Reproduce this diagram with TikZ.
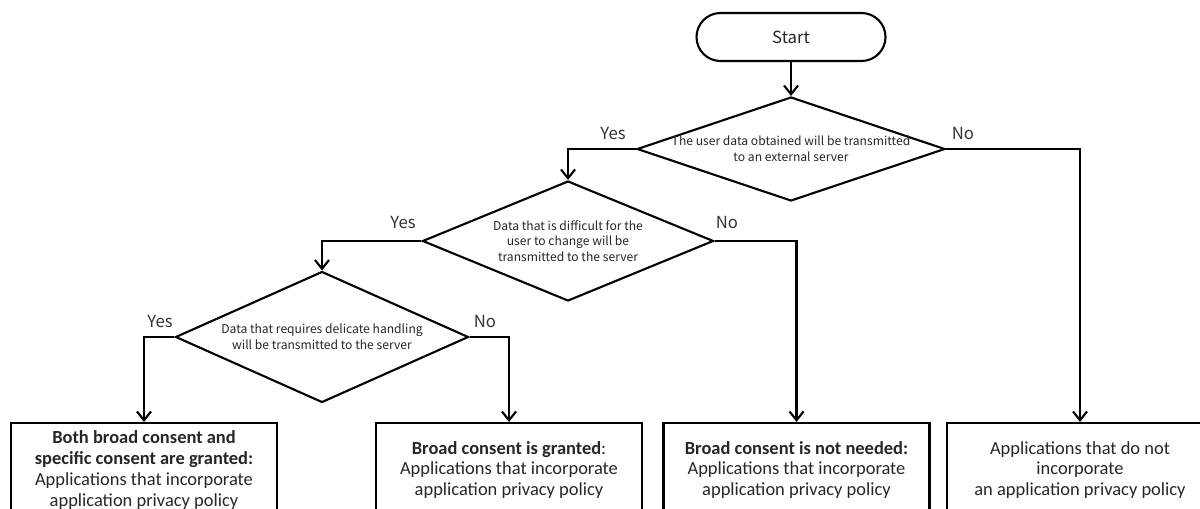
\documentclass[tikz,border=0pt]{standalone}
\usepackage{fontspec}
\setmainfont{Carlito}
\newfontfamily\gothic{Noto Sans CJK JP}
\usepackage{tikz}
\usetikzlibrary{arrows.meta, shapes.geometric}
\tikzset{
  terminal/.style={
    rectangle, rounded corners=0.48cm, draw=black, line width=1.2pt,
    minimum width=3.78cm, minimum height=0.96cm,
    font=\gothic\fontsize{9.5}{11}\selectfont, text=black!85
  },
  decision/.style={
    diamond, draw=black, line width=1.2pt, inner sep=0pt
  },
  question/.style={
    align=center, inner sep=0pt,
    font=\gothic\fontsize{6.9}{9}\selectfont, text=black!85
  },
  outcome/.style={
    rectangle, draw=black, line width=1.2pt,
    minimum width=5.32cm, minimum height=1.88cm,
    align=center, font=\fontsize{10.5}{11.9}\selectfont, text=black!85
  },
  answer/.style={font=\gothic\fontsize{9.5}{11}\selectfont, text=black!80},
  arrow/.style={-{Straight Barb[length=5pt,width=8pt]}, line width=1.2pt, draw=black}
}

\begin{document}
\begin{tikzpicture}
  \clip (0,0) rectangle (24,-10.16);
  % start and the three questions
  \node[terminal] (start) at (15.82,-0.74) {Start};
  \node[decision, minimum width=6.16cm, minimum height=2.08cm] (d1) at (15.82,-2.98) {};
  \node[decision, minimum width=5.82cm, minimum height=2.40cm] (d2) at (11.36,-4.82) {};
  \node[decision, minimum width=5.86cm, minimum height=2.62cm] (d3) at (6.44,-6.74) {};
  \node[question] (q1) at (d1) {The user data obtained will be transmitted\\to an external server};
  \node[question] (q2) at (d2) {Data that is difficult for the\\user to change will be\\transmitted to the server};
  \node[question] (q3) at (d3) {Data that requires delicate handling\\will be transmitted to the server};
  % results
  \node[outcome] (b1) at (2.88,-9.40)
    {\textbf{Both broad consent and}\\\textbf{specific consent are granted:}\\Applications that incorporate\\application privacy policy};
  \node[outcome] (b2) at (10.18,-9.40)
    {\textbf{Broad consent is granted}:\\Applications that incorporate\\application privacy policy};
  \node[outcome] (b3) at (15.93,-9.40)
    {\textbf{Broad consent is not needed:}\\Applications that incorporate\\application privacy policy};
  \node[outcome] (b4) at (21.60,-9.40)
    {Applications that do not\\incorporate\\an application privacy policy};
  % branch labels
  \node[answer] (yes1) at (12.26,-2.66) {Yes};
  \node[answer] (no1) at (19.26,-2.66) {No};
  \node[answer] (yes2) at (8.06,-4.44) {Yes};
  \node[answer] (no2) at (14.54,-4.44) {No};
  \node[answer] (yes3) at (3.20,-6.42) {Yes};
  \node[answer] (no3) at (9.70,-6.42) {No};
  % connectors
  \draw[arrow] (start) -- (d1);
  \foreach \src/\side/\dst in {
    d1/west/d2, d1/east/b4,
    d2/west/d3, d2/east/b3,
    d3/west/b1, d3/east/b2}{
    \draw[arrow] (\src.\side) -| (\dst.north);
  }
\end{tikzpicture}
\end{document}
